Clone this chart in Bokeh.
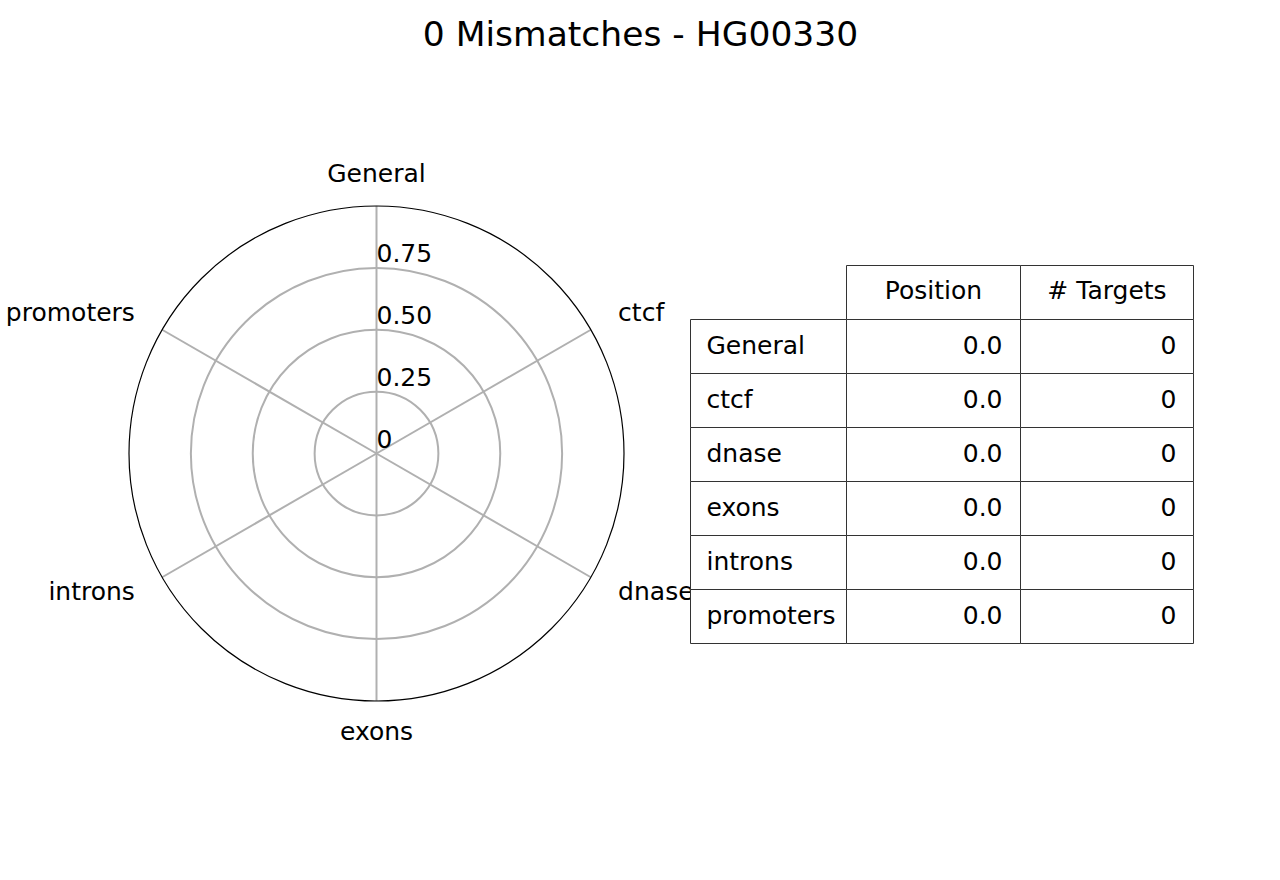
import numpy as np
from bokeh.plotting import figure
from bokeh.models import Range1d
from bokeh.core.properties import value
from bokeh.embed import file_html
from bokeh.resources import INLINE

title_text = "0 Mismatches - HG00330"
categories = ["General", "ctcf", "dnase", "exons", "introns", "promoters"]
radar_values = [0, 0, 0, 0, 0, 0]
position_values = [0.0, 0.0, 0.0, 0.0, 0.0, 0.0]
target_values = [0, 0, 0, 0, 0, 0]
col_headers = ["Position", "# Targets"]
r_ticks = [0.25, 0.5, 0.75]
r_tick_labels = ["0", "0.25", "0.50", "0.75"]
r_max = 1.0

W, H = 1280, 880
FONT = value("DejaVu Sans")
FS = "25px"
DY = 1.5  # small upward text nudge

p = figure(width=W, height=H, output_backend="svg", toolbar_location=None,
           x_range=Range1d(0, W), y_range=Range1d(0, H), min_border=0)
p.axis.visible = False
p.grid.visible = False
p.outline_line_color = None
p.background_fill_color = "white"
p.border_fill_color = "white"

def py(y):
    return H - y

# radar geometry (pixels)
cx, cy, R = 376, py(453), 247.5
n = len(categories)
theta = np.deg2rad(90 - np.arange(n) * 360.0 / n)

# grid circles
p.circle(x=[cx] * len(r_ticks), y=[cy] * len(r_ticks), radius=[t / r_max * R for t in r_ticks],
         fill_color=None, line_color="#b0b0b0", line_width=2)
# radial lines
p.segment(x0=[cx] * n, y0=[cy] * n, x1=list(cx + R * np.cos(theta)), y1=list(cy + R * np.sin(theta)),
          line_color="#b0b0b0", line_width=2)
# outer circle
p.circle(x=[cx], y=[cy], radius=[R], fill_color=None, line_color="black", line_width=1.2)

# data polygon
rv = np.array(radar_values, dtype=float) / r_max * R
xs = list(cx + rv * np.cos(theta)) + [cx + rv[0] * np.cos(theta[0])]
ys = list(cy + rv * np.sin(theta)) + [cy + rv[0] * np.sin(theta[0])]
p.patch(xs, ys, fill_color="#1f77b4", fill_alpha=0.25, line_color=None)
p.line(xs, ys, line_color="#1f77b4", line_width=1.5)

# category labels
lr = 279
for i, c in enumerate(categories):
    cth = np.cos(theta[i])
    if abs(cth) < 1e-6:
        al = "center"
    elif cth > 0:
        al = "left"
    else:
        al = "right"
    p.text(x=[cx + lr * cth], y=[cy + lr * np.sin(theta[i]) + DY], text=[c], text_align=al,
           text_baseline="middle", text_font=FONT, text_font_size=FS, text_color="black")

# radial tick labels
rt_all = [0.0] + r_ticks
p.text(x=[cx] * len(rt_all), y=[cy + t / r_max * R + 13 + DY for t in rt_all], text=r_tick_labels,
       text_align="left", text_baseline="middle", text_font=FONT, text_font_size=FS,
       text_color="black")

# table
col_edges = [690, 846, 1020, 1193]
top = 265
rh = 54
edge = "#333333"
# header cells
p.quad(left=col_edges[1:3], right=col_edges[2:4], top=[py(top)] * 2, bottom=[py(top + rh)] * 2,
       fill_color="white", line_color=edge, line_width=1)
for j, h in enumerate(col_headers):
    p.text(x=[(col_edges[j + 1] + col_edges[j + 2]) / 2], y=[py(top + rh / 2) + DY + 0.5], text=[h],
           text_align="center", text_baseline="middle", text_font=FONT, text_font_size=FS,
           text_color="black")
for i, c in enumerate(categories):
    t = top + rh * (i + 1)
    p.quad(left=col_edges[:3], right=col_edges[1:], top=[py(t)] * 3, bottom=[py(t + rh)] * 3,
           fill_color="white", line_color=edge, line_width=1)
    ym = py(t + rh / 2) + DY
    p.text(x=[col_edges[0] + 16], y=[ym], text=[c], text_align="left", text_baseline="middle",
           text_font=FONT, text_font_size=FS, text_color="black")
    p.text(x=[col_edges[2] - 18], y=[ym], text=[f"{position_values[i]:.1f}"], text_align="right",
           text_baseline="middle", text_font=FONT, text_font_size=FS, text_color="black")
    p.text(x=[col_edges[3] - 17], y=[ym], text=[str(target_values[i])], text_align="right",
           text_baseline="middle", text_font=FONT, text_font_size=FS, text_color="black")

# title
p.text(x=[640], y=[py(34) + 1], text=[title_text], text_align="center", text_baseline="middle",
       text_font=FONT, text_font_size="34.5px", text_color="black")

open("out.html", "w").write(file_html(p, INLINE))
